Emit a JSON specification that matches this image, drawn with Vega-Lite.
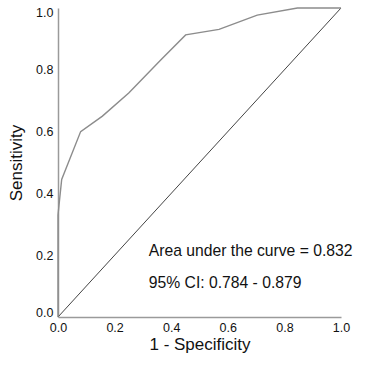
{
  "$schema": "https://vega.github.io/schema/vega-lite/v6.json",
  "width": 283,
  "height": 309,
  "autosize": "none",
  "padding": {"left": 58, "top": 8, "right": 24, "bottom": 52},
  "background": "white",
  "config": {
    "view": {"stroke": null},
    "font": "Liberation Sans",
    "axis": {
      "grid": false,
      "ticks": false,
      "domainColor": "#9a9a9a",
      "domainWidth": 1.5,
      "labelFont": "Liberation Sans",
      "labelFontSize": 12.5,
      "labelColor": "#111",
      "titleFont": "Liberation Sans",
      "titleFontWeight": "normal",
      "titleFontSize": 17,
      "titleColor": "#111"
    }
  },
  "datasets": {
    "roc": [
      {"fpr": 0.0, "tpr": 0.0},
      {"fpr": 0.0, "tpr": 0.33},
      {"fpr": 0.013, "tpr": 0.445},
      {"fpr": 0.08, "tpr": 0.6},
      {"fpr": 0.157, "tpr": 0.65},
      {"fpr": 0.25, "tpr": 0.725},
      {"fpr": 0.363, "tpr": 0.832},
      {"fpr": 0.451, "tpr": 0.913},
      {"fpr": 0.569, "tpr": 0.931},
      {"fpr": 0.704, "tpr": 0.977},
      {"fpr": 0.846, "tpr": 1.0},
      {"fpr": 1.0, "tpr": 1.0}
    ],
    "ref": [
      {"fpr": 0.0, "tpr": 0.0},
      {"fpr": 1.0, "tpr": 1.0}
    ],
    "notes": [
      {"fpr": 0.321, "tpr": 0.199, "label": "Area under the curve = 0.832"},
      {"fpr": 0.321, "tpr": 0.094, "label": "95% CI: 0.784 - 0.879"}
    ]
  },
  "layer": [
    {
      "data": {"name": "ref"},
      "mark": {"type": "line", "color": "#444", "strokeWidth": 1},
      "encoding": {
        "x": {"field": "fpr", "type": "quantitative", "scale": {"domain": [0, 1], "nice": false},
          "axis": {"values": [0, 0.2, 0.4, 0.6, 0.8, 1.0], "format": ".1f", "title": "1 - Specificity", "labelFlush": false, "labelPadding": 4, "titlePadding": 3}},
        "y": {"field": "tpr", "type": "quantitative", "scale": {"domain": [0, 1], "nice": false},
          "axis": {"values": [0, 0.2, 0.4, 0.6, 0.8, 1.0], "format": ".1f", "title": "Sensitivity", "labelFlush": true, "labelFlushOffset": 2, "labelPadding": 5, "titlePadding": 10}}
      }
    },
    {
      "data": {"name": "roc"},
      "mark": {"type": "line", "color": "#8c8c8c", "strokeWidth": 1.4},
      "encoding": {
        "x": {"field": "fpr", "type": "quantitative"},
        "y": {"field": "tpr", "type": "quantitative"},
        "order": {"field": "fpr"}
      }
    },
    {
      "data": {"name": "notes"},
      "mark": {"type": "text", "align": "left", "baseline": "alphabetic", "fontSize": 15.7, "color": "#111", "font": "Liberation Sans"},
      "encoding": {
        "x": {"field": "fpr", "type": "quantitative"},
        "y": {"field": "tpr", "type": "quantitative"},
        "text": {"field": "label"}
      }
    }
  ]
}
